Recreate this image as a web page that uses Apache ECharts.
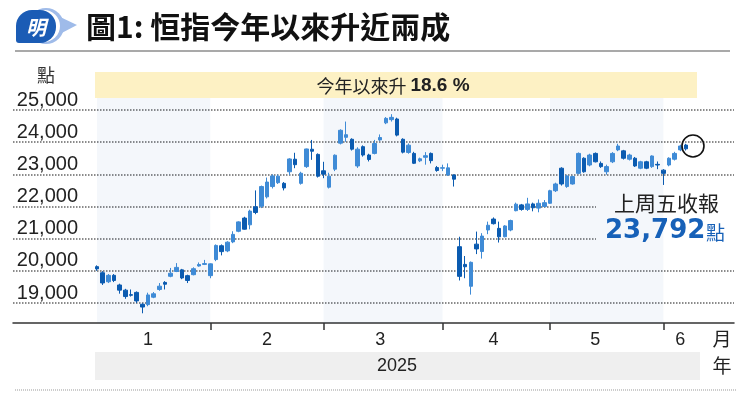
<!DOCTYPE html>
<html>
<head>
<meta charset="utf-8">
<title>圖1: 恒指今年以來升近兩成</title>
<script src="https://cdn.jsdelivr.net/npm/echarts@6/dist/echarts.min.js"></script>
<style>
  html, body { margin: 0; padding: 0; background: #fff; }
  #chart { width: 750px; height: 399px; }
</style>
</head>
<body>
<div id="chart"></div>
<script>
// 交易日 (2024-12-31 至 2025-06-06)
const dates = [
  '2024-12-31',
  '2025-01-02', '2025-01-03', '2025-01-06', '2025-01-07', '2025-01-08', '2025-01-09', '2025-01-10',
  '2025-01-13', '2025-01-14', '2025-01-15', '2025-01-16', '2025-01-17',
  '2025-01-20', '2025-01-21', '2025-01-22', '2025-01-23', '2025-01-24',
  '2025-01-27', '2025-01-28',
  '2025-02-03', '2025-02-04', '2025-02-05', '2025-02-06', '2025-02-07',
  '2025-02-10', '2025-02-11', '2025-02-12', '2025-02-13', '2025-02-14',
  '2025-02-17', '2025-02-18', '2025-02-19', '2025-02-20', '2025-02-21',
  '2025-02-24', '2025-02-25', '2025-02-26', '2025-02-27', '2025-02-28',
  '2025-03-03', '2025-03-04', '2025-03-05', '2025-03-06', '2025-03-07',
  '2025-03-10', '2025-03-11', '2025-03-12', '2025-03-13', '2025-03-14',
  '2025-03-17', '2025-03-18', '2025-03-19', '2025-03-20', '2025-03-21',
  '2025-03-24', '2025-03-25', '2025-03-26', '2025-03-27', '2025-03-28',
  '2025-03-31',
  '2025-04-01', '2025-04-02', '2025-04-03',
  '2025-04-07', '2025-04-08', '2025-04-09', '2025-04-10', '2025-04-11',
  '2025-04-14', '2025-04-15', '2025-04-16', '2025-04-17',
  '2025-04-22', '2025-04-23', '2025-04-24', '2025-04-25',
  '2025-04-28', '2025-04-29', '2025-04-30',
  '2025-05-02',
  '2025-05-06', '2025-05-07', '2025-05-08', '2025-05-09',
  '2025-05-12', '2025-05-13', '2025-05-14', '2025-05-15', '2025-05-16',
  '2025-05-19', '2025-05-20', '2025-05-21', '2025-05-22', '2025-05-23',
  '2025-05-26', '2025-05-27', '2025-05-28', '2025-05-29', '2025-05-30',
  '2025-06-02', '2025-06-03', '2025-06-04', '2025-06-05', '2025-06-06'
]

// 開市 / 收市 / 最低 / 最高
const opens = [
  20130,
  19940, 19660, 19860, 19560, 19400, 19260, 19330,
  18960, 18950, 19180, 19420, 19640,
  19830, 19980, 20030, 19850, 19880,
  20150, 20200,
  19850, 20350, 20780, 20620, 20900,
  21230, 21640, 21430, 21990, 22010,
  22300, 22620, 22740, 22720, 23080,
  23470, 22720, 23240, 23780, 23620,
  23110, 22600, 23160, 23970, 24150,
  24090, 23260, 23860, 23600, 23650,
  24070, 24600, 24700, 24720, 24090,
  23680, 23650, 23420, 23530, 23650,
  23210,
  23190, 22980, 22980,
  20750, 20200, 19520, 20830, 20600,
  21270, 21610, 21320, 21060,
  21270, 21870, 22050, 21910,
  22080, 21950, 22000,
  22100,
  22490, 23190, 22620, 22700,
  23030, 23500, 23290, 23650, 23340,
  23080, 23390, 23760, 23730, 23470,
  23500, 23190, 23390, 23240, 23310,
  23130, 23290, 23470, 23760, 23910
]
const closes = [
  20060,
  19623, 19860, 19700, 19400, 19200, 19240, 19064,
  18874, 19250, 19286, 19522, 19584,
  19926, 20107, 19778, 19700, 20066,
  20197, 20225,
  20217, 20790, 20597, 20891, 21133,
  21521, 21294, 21857, 21814, 22620,
  22760, 22950, 22944, 22577, 23478,
  23300, 23034, 23788, 23718, 22941,
  23006, 22941, 23594, 24369, 24231,
  23783, 23782, 23600, 23462, 23959,
  24145, 24740, 24771, 24219, 23690,
  23906, 23344, 23483, 23579, 23426,
  23119,
  23206, 23202, 22849,
  19828, 20127, 20264, 20681, 21080,
  21417, 21466, 21057, 21395,
  21562, 22072, 21909, 22080,
  21960, 22100, 22119,
  22490,
  22700, 22700, 22950, 22930,
  23650, 23080, 23600, 23390, 23240,
  23240, 23650, 23880, 23500, 23600,
  23260, 23390, 23190, 23570, 23290,
  23030, 23500, 23650, 23880, 23792
]
const lows = [
  20000,
  19560, 19620, 19650, 19290, 19130, 19200, 19000,
  18680, 18900, 19150, 19380, 19420,
  19800, 19960, 19740, 19620, 19860,
  20130, 20180,
  19770, 20300, 20480, 20580, 20860,
  21200, 21280, 21290, 21760, 21950,
  22250, 22560, 22700, 22500, 22980,
  23190, 22680, 23200, 23450, 22900,
  22880, 22560, 23100, 23930, 24010,
  23740, 23200, 23550, 23400, 23620,
  24040, 24560, 24640, 24180, 23650,
  23640, 23320, 23380, 23300, 23340,
  23080,
  23100, 22950, 22620,
  19700, 19770, 19260, 20520, 20380,
  21140, 21440, 20880, 21040,
  21230, 21850, 21870, 21860,
  21850, 21820, 21970,
  22080,
  22450, 22650, 22580, 22680,
  23000, 23050, 23250, 23370, 23200,
  22990, 23350, 23720, 23460, 23430,
  23230, 23160, 23160, 23200, 23160,
  22670, 23250, 23430, 23720, 23740
]
const highs = [
  20170,
  19990, 19900, 19900, 19600, 19440, 19420, 19360,
  18990, 19320, 19340, 19620, 19680,
  20090, 20240, 20060, 19880, 20110,
  20260, 20340,
  20230, 20820, 20820, 20920, 21230,
  21540, 21680, 21900, 22500, 22650,
  22900, 23000, 22990, 22760, 23500,
  23670, 23080, 23800, 24070, 23650,
  23390, 23050, 23620, 24400, 24640,
  24120, 23840, 23900, 23640, 24070,
  24240, 24780, 24870, 24760, 24120,
  23960, 23700, 23520, 23690, 23680,
  23260,
  23300, 23340, 23000,
  21060, 20460, 20290, 21220, 21170,
  21530, 21660, 21530, 21420,
  21590, 22120, 22080, 22270,
  22120, 22220, 22200,
  22520,
  22740, 23220, 22980, 22960,
  23680, 23530, 23640, 23680, 23400,
  23300, 23690, 23950, 23760, 23640,
  23540, 23420, 23420, 23590, 23400,
  23160, 23530, 23700, 23920, 23950
]

// 月份標籤
const monthLabels = ['1', '2', '3', '4', '5', '6']
const monthLabelDays = ['2025-01-14', '2025-02-17', '2025-03-17', '2025-04-15', '2025-05-15', '2025-06-05']
const monthStartDays = ['2025-02-03', '2025-03-03', '2025-04-01', '2025-05-02', '2025-06-02']
const bandStartDays = ['2024-12-31', '2025-02-03', '2025-03-03', '2025-04-01', '2025-05-02', '2025-06-02']

// 點數刻度
const yMin = 19000
const yMax = 25000
const yStep = 1000

const lastClose = closes[closes.length - 1]
const circleValue = 23880

const blue = '#1761b8'
const cjk = '"Noto Sans CJK TC", "Noto Sans CJK SC", sans-serif'
const latin = '"Liberation Sans", Arial, sans-serif'

const chart = echarts.init(document.getElementById('chart'))

const option = {
  animation: false,
  backgroundColor: '#fff',
  grid: [
    { left: 13, right: 16, top: 110, bottom: 96, outerBoundsMode: 'none' },
    { left: 94.2, right: 61.2, top: 98, bottom: 76, outerBoundsMode: 'none' }
  ],
  xAxis: [
    {
      gridIndex: 0,
      type: 'value',
      min: 0,
      max: 1,
      offset: 20,
      axisLine: { show: true, onZero: false, lineStyle: { color: '#333', width: 1.5 } },
      axisTick: { show: false },
      axisLabel: { show: false },
      splitLine: { show: false }
    },
    {
      gridIndex: 1,
      type: 'category',
      data: dates,
      boundaryGap: true,
      z: 2,
      axisLine: { show: false },
      axisTick: {
        show: true,
        alignWithLabel: true,
        length: 7,
        interval: (i, v) => monthStartDays.includes(v),
        lineStyle: { color: '#333', width: 1.5 }
      },
      axisLabel: {
        interval: (i, v) => monthLabelDays.includes(v),
        formatter: v => monthLabels[monthLabelDays.indexOf(v)],
        margin: 8,
        color: '#222',
        fontSize: 18,
        fontFamily: latin
      },
      splitLine: { show: false },
      splitArea: {
        show: true,
        alignWithLabel: true,
        interval: (i, v) => bandStartDays.includes(v),
        areaStyle: { color: ['rgba(40,100,180,0.05)', 'rgba(255,255,255,0)'] }
      }
    }
  ],
  yAxis: [
    {
      gridIndex: 0,
      type: 'value',
      min: yMin,
      max: yMax,
      interval: yStep,
      z: 0,
      axisLine: { show: false },
      axisTick: { show: false },
      axisLabel: {
        inside: true,
        margin: 65,
        align: 'right',
        verticalAlign: 'bottom',
        color: '#222',
        fontSize: 20,
        fontFamily: latin,
        formatter: v => v.toLocaleString('en-US')
      },
      splitLine: { show: true, lineStyle: { type: 'dotted', color: '#666', width: 1.5 } }
    },
    {
      gridIndex: 1,
      type: 'value',
      min: 18378,
      max: 25373,
      show: false
    }
  ],
  series: [
    {
      name: '恒指',
      type: 'candlestick',
      xAxisIndex: 1,
      yAxisIndex: 1,
      z: 3,
      barWidth: 4,
      data: dates.map((d, i) => [opens[i], closes[i], lows[i], highs[i]]),
      itemStyle: {
        color: '#3f8bd6',
        color0: '#0b5bb0',
        borderColor: '#3f8bd6',
        borderColor0: '#0b5bb0',
        borderWidth: 1
      },
      markPoint: {
        silent: true,
        symbol: 'circle',
        symbolSize: 22,
        label: { show: false },
        data: [
          {
            coord: [dates[dates.length - 1], circleValue],
            symbolOffset: [7, 0],
            itemStyle: { color: 'rgba(0,0,0,0)', borderColor: '#111', borderWidth: 1.6 }
          }
        ]
      }
    }
  ],
  graphic: [
    // 標誌
    { type: 'circle', z: 10, shape: { cx: 46, cy: 26, r: 18 }, style: { fill: '#9fbbe9' } },
    { type: 'polygon', z: 10, shape: { points: [[56, 15], [77, 25], [56, 36]] }, style: { fill: '#9fbbe9' } },
    { type: 'circle', z: 10, shape: { cx: 44, cy: 26, r: 16 }, style: { fill: '#fff' } },
    { type: 'rect', z: 11, shape: { x: 16, y: 10, width: 40, height: 33, r: [16, 16, 16, 3] }, style: { fill: '#1b5cb5' } },
    {
      type: 'text', z: 12, x: 36, y: 27,
      style: { text: '明', fill: '#fff', fontSize: 20, fontWeight: 'bold', fontStyle: 'italic', fontFamily: cjk, align: 'center', verticalAlign: 'middle' }
    },
    // 標題
    {
      type: 'text', z: 10, x: 86, y: 27,
      style: { text: '圖1: 恒指今年以來升近兩成', fill: '#111', fontSize: 30, fontWeight: 'bold', fontFamily: cjk, align: 'left', verticalAlign: 'middle' }
    },
    { type: 'line', z: 10, shape: { x1: 15, y1: 51, x2: 730, y2: 51 }, style: { stroke: '#8c8c8c', lineWidth: 1.5 } },
    // 單位
    {
      type: 'text', z: 10, x: 46, y: 75,
      style: { text: '點', fill: '#333', fontSize: 18, fontFamily: cjk, align: 'center', verticalAlign: 'middle' }
    },
    // 升幅橫額
    { type: 'rect', z: 10, shape: { x: 95, y: 72, width: 602, height: 26 }, style: { fill: '#fdf1c4' } },
    {
      type: 'text', z: 11, x: 393, y: 86,
      style: {
        text: '{a|今年以來升 }{b|18.6 %}',
        align: 'center',
        verticalAlign: 'middle',
        rich: {
          a: { fontSize: 18, fontFamily: cjk, fill: '#222', color: '#222' },
          b: { fontSize: 19, fontWeight: 'bold', fontFamily: latin, fill: '#222', color: '#222' }
        }
      }
    },
    // 收市註釋
    { type: 'rect', z: 1, shape: { x: 596, y: 190, width: 140, height: 60 }, style: { fill: '#fff' } },
    {
      type: 'text', z: 10, x: 614, y: 203,
      style: { text: '上周五收報', fill: '#222', fontSize: 21, fontFamily: cjk, align: 'left', verticalAlign: 'middle' }
    },
    {
      type: 'text', z: 10, x: 605, y: 231,
      style: { text: lastClose.toLocaleString('en-US'), fill: blue, fontSize: 26, fontWeight: 'bold', fontFamily: '"DejaVu Sans", sans-serif', align: 'left', verticalAlign: 'middle' }
    },
    {
      type: 'text', z: 10, x: 706, y: 233,
      style: { text: '點', fill: blue, fontSize: 19, fontFamily: cjk, align: 'left', verticalAlign: 'middle' }
    },
    // 月 / 年
    {
      type: 'text', z: 10, x: 722, y: 339,
      style: { text: '月', fill: '#222', fontSize: 19, fontFamily: cjk, align: 'center', verticalAlign: 'middle' }
    },
    { type: 'rect', z: 10, shape: { x: 95, y: 352, width: 605, height: 28 }, style: { fill: '#efefef' } },
    {
      type: 'text', z: 11, x: 397, y: 366,
      style: { text: '2025', fill: '#222', fontSize: 18, fontFamily: latin, align: 'center', verticalAlign: 'middle' }
    },
    {
      type: 'text', z: 10, x: 722, y: 366,
      style: { text: '年', fill: '#222', fontSize: 19, fontFamily: cjk, align: 'center', verticalAlign: 'middle' }
    },
    { type: 'line', z: 10, shape: { x1: 15, y1: 390, x2: 736, y2: 390 }, style: { stroke: '#999', lineWidth: 1, lineDash: [1, 1] } }
  ]
}

chart.setOption(option)
</script>
</body>
</html>
